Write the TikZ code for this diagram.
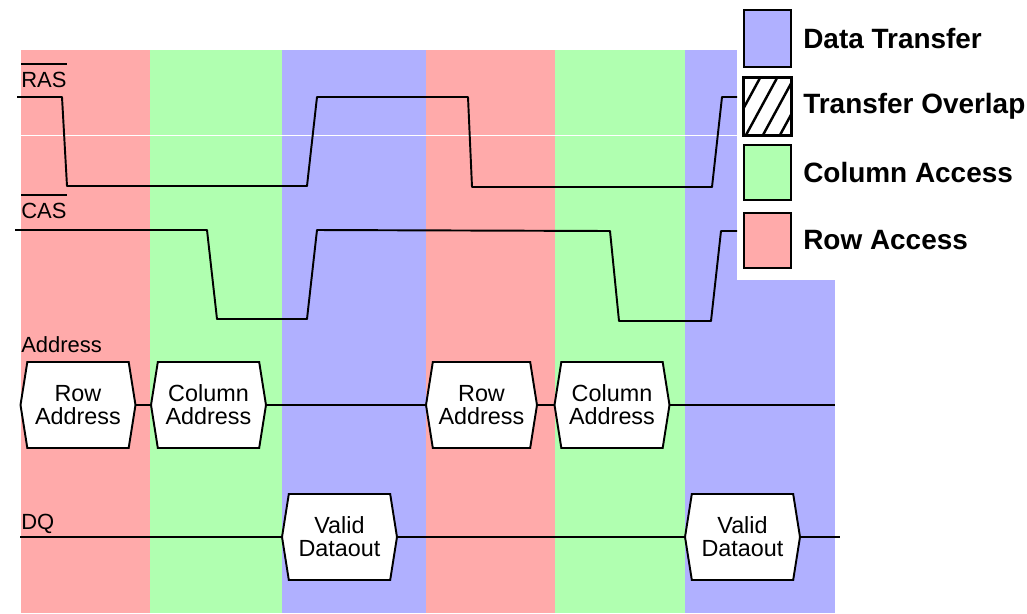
\documentclass[tikz,border=0pt]{standalone}
\usepackage{fontspec}
\setmainfont{Liberation Sans}
\usepackage{xcolor}
\usepackage{tikz}
\usetikzlibrary{
  shapes.symbols,
  positioning
}

\definecolor{rowred}{RGB}{255,170,170}
\definecolor{colgreen}{RGB}{176,255,176}
\definecolor{xferblue}{RGB}{176,176,255}
\newcommand{\barsig}[1]{\vbox{\hrule height 1.1pt\kern 4pt\hbox{#1}}}

\begin{document}
\begin{tikzpicture}[x=0.02cm,y=-0.02cm,
  hexbox/.style={signal,signal to=west and east,signal pointer angle=162,draw=black,fill=white,line width=1.1pt,
    minimum width=2.3cm,minimum height=1.72cm,inner sep=0pt,align=center,font=\fontsize{13.3}{13}\selectfont},
  siglabel/.style={anchor=base west,inner sep=0pt,font=\fontsize{12.5}{14}\selectfont},
  keybox/.style={rectangle,draw=black,line width=1.1pt,minimum width=0.94cm,minimum height=1.14cm,inner sep=0pt},
  keytext/.style={inner sep=0pt,font=\fontsize{15.9}{18}\selectfont\bfseries},
  wave/.style={line width=1.1pt,line join=round}]
  \useasboundingbox[fill=white] (0,0) rectangle (1027,613);

  % phases
  \fill[rowred] (21,50) rectangle (150,613);
  \fill[colgreen] (150,50) rectangle (282,613);
  \fill[xferblue] (282,50) rectangle (426,613);
  \fill[rowred] (426,50) rectangle (555,613);
  \fill[colgreen] (555,50) rectangle (685,613);
  \fill[xferblue] (685,50) rectangle (835,613);
  \draw[white,line width=0.4pt] (0,135) -- (737,135);
  \fill[white] (737,0) rectangle (1027,280);

  % RAS and CAS
  \node[siglabel] (ras) at (21,87) {\barsig{RAS}};
  \draw[wave] (17,97) -- (62,97) -- (67,186) -- (307,186) -- (317,97) -- (468,97)
    -- (472,187) -- (712,187) -- (722,97) -- (737,97);
  \node[siglabel] (cas) at (21,218) {\barsig{CAS}};
  \draw[wave] (15,230) -- (207,230) -- (217,319) -- (307,319) -- (317,230) -- (610,231)
    -- (619,321) -- (711,321) -- (721,231) -- (737,231);

  % address bus
  \node[siglabel] (addr) at (21,352) {Address};
  \node[hexbox] (row1) at (78,405) {Row\\Address};
  \node[hexbox] (col1) at (208.5,405) {Column\\Address};
  \node[hexbox,minimum width=2.22cm] (row2) at (481.5,405) {Row\\Address};
  \node[hexbox] (col2) at (612,405) {Column\\Address};
  \coordinate (addrend) at (835,405);
  \draw[wave] (row1.east) -- (col1.west);
  \draw[wave] (col1.east) -- (row2.west);
  \draw[wave] (row2.east) -- (col2.west);
  \draw[wave] (col2.east) -- (addrend);

  % data
  \node[siglabel] (dq) at (21,529) {DQ};
  \coordinate (dqstart) at (20,537);
  \node[hexbox] (data1) at (339.5,537) {Valid\\Dataout};
  \node[hexbox] (data2) at (742.5,537) {Valid\\Dataout};
  \coordinate (dqend) at (840,537);
  \draw[wave] (dqstart) -- (data1.west);
  \draw[wave] (data1.east) -- (data2.west);
  \draw[wave] (data2.east) -- (dqend);

  % legend
  \node[keybox,fill=xferblue] (k1) at (767.5,38.5) {};
  \node[keybox,fill=white] (k2) at (767.5,106.5) {};
  \node[keybox,fill=colgreen,minimum height=1.1cm] (k3) at (767.5,172.5) {};
  \node[keybox,fill=rowred,minimum height=1.1cm] (k4) at (767.5,240.5) {};
  \begin{scope}
    \clip (k2.south west) rectangle (k2.north east);
    \draw[line width=1.4pt] (729,135) -- ++(31,-57);
    \draw[line width=1.4pt] (746,135) -- ++(31,-57);
    \draw[line width=1.4pt] (763,135) -- ++(31,-57);
    \draw[line width=1.4pt] (780,135) -- ++(31,-57);
  \end{scope}
  \draw[line width=1.1pt] (k2.south west) rectangle (k2.north east);
  \node[keytext,right=0.22cm of k1] (t1) {Data Transfer};
  \node[keytext,right=0.22cm of k2] (t2) {Transfer Overlap};
  \node[keytext,right=0.22cm of k3] (t3) {Column Access};
  \node[keytext,right=0.22cm of k4] (t4) {Row Access};
\end{tikzpicture}
\end{document}
